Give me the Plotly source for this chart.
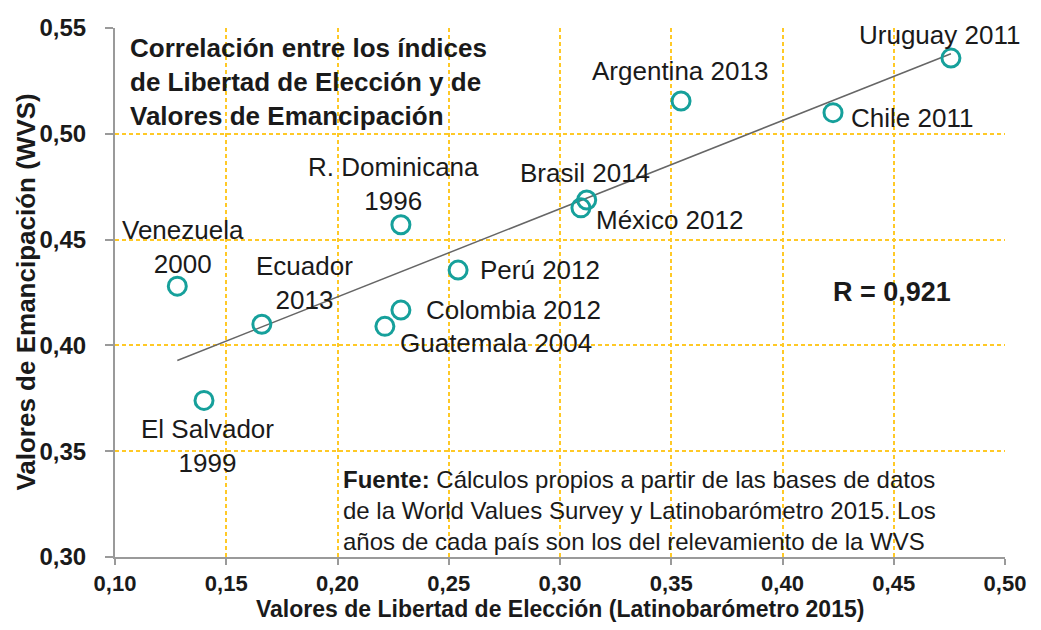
import numpy as np
import plotly.graph_objects as go

# datos
paises = ["Venezuela<br>2000", "El Salvador<br>1999", "Ecuador<br>2013", "R. Dominicana<br>1996",
          "Colombia 2012", "Guatemala 2004", "Perú 2012", "Brasil 2014", "México 2012",
          "Argentina 2013", "Chile 2011", "Uruguay 2011"]
libertad = [0.128, 0.140, 0.166, 0.2285, 0.2285, 0.2213, 0.2542, 0.312, 0.3094, 0.3544, 0.4227, 0.4757]
emancipacion = [0.428, 0.374, 0.410, 0.457, 0.4167, 0.409, 0.4356, 0.4687, 0.465, 0.5155, 0.510, 0.5358]
r_publicado = 0.921  # el valor que figura en el grafico

x_ticks = [0.10, 0.15, 0.20, 0.25, 0.30, 0.35, 0.40, 0.45, 0.50]
y_ticks = [0.30, 0.35, 0.40, 0.45, 0.50, 0.55]

# posicion de cada etiqueta respecto a su punto (xanchor, xshift, yshift)
label_pos = [("center", 6, 39), ("center", 3, -46), ("center", 43, 41), ("center", -7, 41),
             ("left", 23, 0), ("left", 13, -17), ("left", 20, 0), ("left", -69, 27),
             ("left", 13, -12), ("left", -91, 30), ("left", 16, -5), ("left", -94, 23)]

x = np.array(libertad)
y = np.array(emancipacion)
pendiente, ordenada = np.polyfit(x, y, 1)
x_linea = np.array([x.min(), x.max()])

FONT = "Liberation Sans, Arial"
TXT = "#1a1a1a"

fig = go.Figure()

# linea de tendencia
fig.add_trace(go.Scatter(x=x_linea, y=pendiente * x_linea + ordenada, mode="lines",
                         line=dict(color="#666666", width=1.5), showlegend=False, hoverinfo="skip"))

fig.add_trace(go.Scatter(x=libertad, y=emancipacion, mode="markers",
                         marker=dict(symbol="circle-open", size=18, color="#16A09B",
                                     line=dict(width=3, color="#16A09B")),
                         showlegend=False, cliponaxis=False))

label_font = dict(family=FONT, size=26, color=TXT)
for nombre, lx, ly, (anc, dx, dy) in zip(paises, libertad, emancipacion, label_pos):
    fig.add_annotation(x=lx, y=ly, text=nombre, showarrow=False, xanchor=anc, yanchor="middle",
                       xshift=dx, yshift=dy, font=label_font, align="center")

# titulo dentro del grafico
fig.add_annotation(xref="paper", yref="paper", x=0.015, y=0.995, xanchor="left", yanchor="top",
                   text="<b>Correlación entre los índices<br>de Libertad de Elección y de<br>Valores de Emancipación</b>",
                   showarrow=False, align="left", font=dict(family=FONT, size=26, color=TXT))

fig.add_annotation(xref="paper", yref="paper", x=0.873, y=0.501, xanchor="center", yanchor="middle",
                   text=f"<b>R = {r_publicado:.3f}</b>".replace(".", ","), showarrow=False,
                   font=dict(family=FONT, size=27, color=TXT))

fig.add_annotation(xref="paper", yref="paper", x=0.254, y=0.0, xanchor="left", yanchor="bottom",
                   text="<b>Fuente:</b> Cálculos propios a partir de las bases de datos<br>"
                        "de la World Values Survey y Latinobarómetro 2015. Los<br>"
                        "años de cada país son los del relevamiento de la WVS",
                   showarrow=False, align="left", font=dict(family=FONT, size=24, color=TXT))

# titulos de ejes
fig.add_annotation(xref="paper", yref="paper", x=0.5, y=-0.099, xanchor="center", yanchor="middle",
                   text="<b>Valores de Libertad de Elección (Latinobarómetro 2015)</b>",
                   showarrow=False, font=dict(family=FONT, size=23, color=TXT))
fig.add_annotation(xref="paper", yref="paper", x=-0.101, y=0.5, xanchor="center", yanchor="middle",
                   text="<b>Valores de Emancipación (WVS)</b>", textangle=-90,
                   showarrow=False, font=dict(family=FONT, size=26, color=TXT))

grid = dict(showgrid=True, gridcolor="#FFC926", gridwidth=1.5, griddash="4px,3px")
fig.update_xaxes(range=[0.10, 0.50], tickvals=x_ticks,
                 ticktext=[f"{v:.2f}".replace(".", ",") for v in x_ticks],
                 showline=True, linecolor="#9a9a9a", linewidth=2, ticks="outside", tickcolor="#9a9a9a",
                 ticklen=6, tickwidth=2, ticklabelstandoff=0, zeroline=False, automargin=False,
                 tickfont=dict(family=FONT, size=22, color=TXT, weight="bold"), **grid)
fig.update_yaxes(range=[0.30, 0.55], tickvals=y_ticks,
                 ticktext=[f"{v:.2f}".replace(".", ",") for v in y_ticks],
                 showline=True, linecolor="#9a9a9a", linewidth=2, ticks="outside", tickcolor="#9a9a9a",
                 ticklen=8, tickwidth=2, ticklabelstandoff=14, zeroline=False, automargin=False,
                 tickfont=dict(family=FONT, size=24, color=TXT, weight="bold"), **grid)

# la pagina añade 8 px de margen, por eso la figura es algo mas chica
fig.update_layout(width=1025, height=614, margin=dict(l=107, r=28, t=20, b=65),
                  plot_bgcolor="white", paper_bgcolor="white")

fig.write_html("out.html")
